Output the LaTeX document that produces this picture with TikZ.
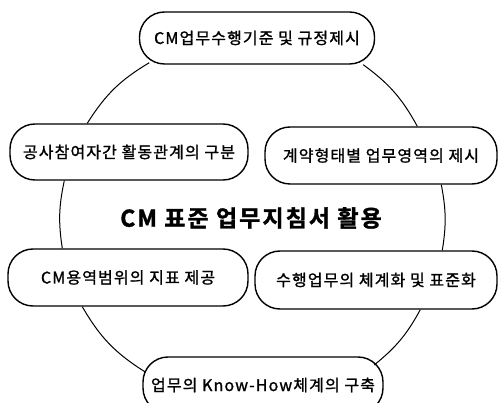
\documentclass[tikz,border=0pt]{standalone}
\usepackage{fontspec}
\setmainfont{Noto Sans CJK KR}[LetterSpace=7]
\newfontfamily\nodefont{Noto Sans CJK KR}[LetterSpace=7, FakeBold=1.2]
\newfontfamily\titlefont{Noto Sans CJK KR Bold}[LetterSpace=9, FakeBold=1.5]
\usetikzlibrary{calc}
\begin{document}
\begin{tikzpicture}[x=1pt,y=-1pt,
  box/.style={draw, line width=1.4pt, rounded corners=25pt, fill=white, inner sep=0pt,
              font=\nodefont\fontsize{16}{18}\selectfont},
  title/.style={font=\titlefont\fontsize{23}{26}\selectfont},
  link/.style={line width=1pt}]
\useasboundingbox (0,0) rectangle (498,403);
\node[box, minimum width=235pt, minimum height=52pt] (top) at (257,38) {CM업무수행기준 및 규정제시};
\node[box, minimum width=238pt, minimum height=56pt] (lu) at (129,152) {공사참여자간 활동관계의 구분};
\node[box, minimum width=232pt, minimum height=57pt] (ru) at (381,155.5) {계약형태별 업무영역의 제시};
\node[box, minimum width=240pt, minimum height=57pt] (ll) at (128,277.5) {CM용역범위의 지표 제공};
\node[box, minimum width=242pt, minimum height=58pt] (rl) at (376,280) {수행업무의 체계화 및 표준화};
\node[box, minimum width=240pt, minimum height=56pt] (bot) at (263,385) {업무의 Know-How체계의 구축};
\node[title] (center) at (251,218) {CM 표준 업무지침서 활용};
\draw[link] ($(top.south west)+(10.5,-2)$) to[bend right=13.5] ($(lu.north west)+(78,0)$);
\draw[link] ($(lu.south west)+(55,0)$) to[bend right=10.4] ($(ll.north west)+(55,0)$);
\draw[link] ($(ll.south west)+(75,0)$) to[bend right=13.9] ($(bot.west)+(3,-13)$);
\draw[link] ($(bot.east)+(-9.5,-20)$) to[bend right=11.2] ($(rl.south west)+(166,0)$);
\draw[link] ($(rl.north west)+(188,0)$) to[bend right=10] ($(ru.south west)+(177,0)$);
\draw[link] ($(ru.north west)+(153,0)$) to[bend right=12.6] ($(top.south east)+(-12,0)$);
\end{tikzpicture}
\end{document}
